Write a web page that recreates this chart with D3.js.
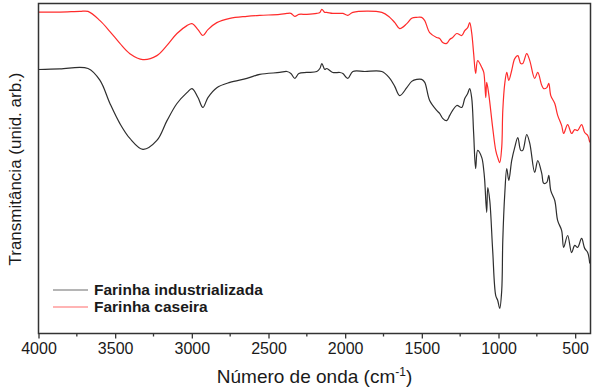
<!DOCTYPE html>
<html>
<head>
<meta charset="utf-8">
<script src="https://cdn.jsdelivr.net/npm/d3@7"></script>
<style>
  body { margin: 0; background: #fff; }
  text { font-family: Arial, "Liberation Sans", sans-serif; fill: #1a1a1a; }
</style>
</head>
<body>
<svg id="chart" width="602" height="388"></svg>
<script>
// wavenumber (cm-1) and transmittance (arb. units, 0-100)
var industWn = [4000,3860,3677,3599,3534,3469,3404,3319,3228,3162,3097,3032,2999,2960,2928,2895,2837,2752,2641,2557,2427,2380,2354,2328,2302,2250,2185,2165,2152,2133,2120,2081,2035,2015,1983,1950,1872,1761,1709,1676,1644,1598,1566,1533,1501,1481,1449,1403,1384,1364,1338,1318,1299,1272,1240,1220,1201,1188,1175,1162,1149,1136,1109,1096,1090,1077,1070,1057,1038,1018,1005,992,979,972,959,946,933,914,894,874,855,842,816,796,764,744,718,705,685,672,659,633,614,588,575,549,523,503,484,458,438,418,405];
var industT = [80.0,80.2,80.3,76.7,69.7,63.6,59.1,55.8,58.5,64.5,69.7,73.0,74.2,71.5,68.5,71.5,74.5,76.1,77.3,78.5,79.1,79.4,78.8,77.3,78.8,79.1,79.4,80.3,81.8,80.0,80.3,79.1,79.1,78.8,77.3,79.4,79.4,79.4,77.3,74.8,72.1,74.5,76.4,77.0,77.0,76.1,70.6,67.6,66.7,65.2,64.5,66.1,67.6,69.1,68.5,71.2,72.7,74.2,71.5,60.6,50.0,55.5,53.3,49.4,46.4,36.7,44.2,40.3,25.2,11.5,10.0,7.6,13.0,28.2,42.4,50.0,46.4,52.4,56.4,59.4,55.5,55.5,60.3,57.6,48.8,52.4,48.5,45.5,45.8,47.9,43.3,40.3,34.2,31.2,26.1,29.7,24.5,26.7,26.1,28.8,25.8,24.5,21.2];

var caseiraWn = [4000,3860,3730,3677,3599,3534,3469,3404,3319,3228,3162,3097,3032,2999,2960,2928,2895,2837,2752,2641,2557,2427,2380,2354,2328,2302,2250,2185,2165,2152,2133,2120,2081,2035,2015,1983,1950,1761,1709,1676,1644,1598,1566,1533,1501,1481,1449,1403,1384,1364,1338,1318,1299,1272,1240,1220,1201,1188,1175,1162,1149,1136,1109,1096,1083,1077,1064,1038,1018,1005,992,979,972,959,946,933,914,894,874,855,842,816,796,764,744,718,705,685,672,659,633,614,588,575,549,523,503,484,458,438,418,405];
var caseiraT = [97.4,97.4,97.6,97.6,94.8,91.5,87.9,84.8,83.0,84.2,87.3,90.9,93.3,93.9,92.1,90.3,92.1,94.2,95.5,96.1,96.4,96.7,97.0,97.0,96.1,96.7,96.7,97.0,97.3,98.2,97.3,97.3,97.0,97.0,97.0,96.4,97.3,97.3,95.8,94.2,92.4,93.9,95.5,95.8,95.8,94.8,91.2,89.7,89.4,88.2,87.9,89.1,89.7,90.9,90.3,91.8,92.7,94.2,91.2,84.8,78.8,82.7,80.6,79.1,71.5,76.1,72.7,62.4,55.5,53.3,51.8,56.4,67.6,75.8,79.1,76.7,79.7,83.3,84.2,81.8,81.8,84.8,82.7,77.3,79.1,75.2,74.2,74.5,75.8,72.1,69.7,66.1,63.0,60.6,63.3,60.6,61.8,61.5,63.3,60.9,60.0,57.9];

var xTicks = [4000,3500,3000,2500,2000,1500,1000,500];
var seriesNames = ["Farinha industrializada", "Farinha caseira"];
var seriesColors = ["#2e2e2e", "#ff2b2b"];

var padL = 38.5, padR = 590.5, padT = 3.5, padB = 333.5;

var svg = d3.select("#chart");

var x = d3.scaleLinear().domain([4000, 400]).range([padL, padR]);
var y = d3.scaleLinear().domain([0, 100]).range([padB, padT]);

var series = [
    { name: seriesNames[0], color: seriesColors[0], pts: d3.zip(industWn, industT) },
    { name: seriesNames[1], color: seriesColors[1], pts: d3.zip(caseiraWn, caseiraT) }
];

var line = d3.line()
    .x(function (d) { return x(d[0]); })
    .y(function (d) { return y(d[1]); })
    .curve(d3.curveCatmullRom.alpha(0.5));

svg.append("g").selectAll("path")
    .data(series)
    .enter().append("path")
    .attr("d", function (d) { return line(d.pts); })
    .attr("fill", "none")
    .attr("stroke", function (d) { return d.color; })
    .attr("stroke-width", 1.2);

// frame
svg.append("rect")
    .attr("x", padL).attr("y", padT)
    .attr("width", padR - padL).attr("height", padB - padT)
    .attr("fill", "none").attr("stroke", "#333").attr("stroke-width", 1.5);

// x axis, major + minor ticks
var xAxis = svg.append("g").attr("transform", "translate(0," + padB + ")");
xAxis.call(d3.axisBottom(x).tickValues(xTicks).tickSize(5).tickPadding(4).tickFormat(d3.format("d")));
xAxis.select(".domain").remove();
xAxis.selectAll(".tick line").attr("stroke", "#333").attr("stroke-width", 1.3);
xAxis.selectAll(".tick text").style("font-size", "16px").attr("fill", "#1a1a1a");

svg.append("g").attr("transform", "translate(0," + padB + ")")
    .selectAll("line")
    .data(d3.range(3750, 400, -500))
    .enter().append("line")
    .attr("x1", function (d) { return x(d); }).attr("x2", function (d) { return x(d); })
    .attr("y1", 0).attr("y2", 3)
    .attr("stroke", "#333").attr("stroke-width", 1.3);

// axis titles
var xt = svg.append("text")
    .attr("x", (padL + padR) / 2).attr("y", 383)
    .attr("text-anchor", "middle")
    .style("font-size", "19px");
xt.append("tspan").text("Número de onda (cm");
xt.append("tspan").attr("dy", -7).style("font-size", "12px").text("-1");
xt.append("tspan").attr("dy", 7).text(")");

svg.append("text")
    .attr("transform", "translate(21,169) rotate(-90)")
    .attr("text-anchor", "middle")
    .style("font-size", "17px")
    .text("Transmitância (unid. arb.)");

// legend
var legend = svg.append("g").selectAll("g")
    .data(series)
    .enter().append("g")
    .attr("transform", function (d, i) { return "translate(53," + (290 + i * 17) + ")"; });
legend.append("line")
    .attr("x1", 0).attr("x2", 35)
    .attr("stroke", function (d) { return d.color; })
    .attr("stroke-opacity", 0.7)
    .attr("stroke-width", 1.2);
legend.append("text")
    .attr("x", 41).attr("y", 5)
    .style("font-size", "15.5px").style("font-weight", "bold")
    .text(function (d) { return d.name; });
</script>
</body>
</html>
